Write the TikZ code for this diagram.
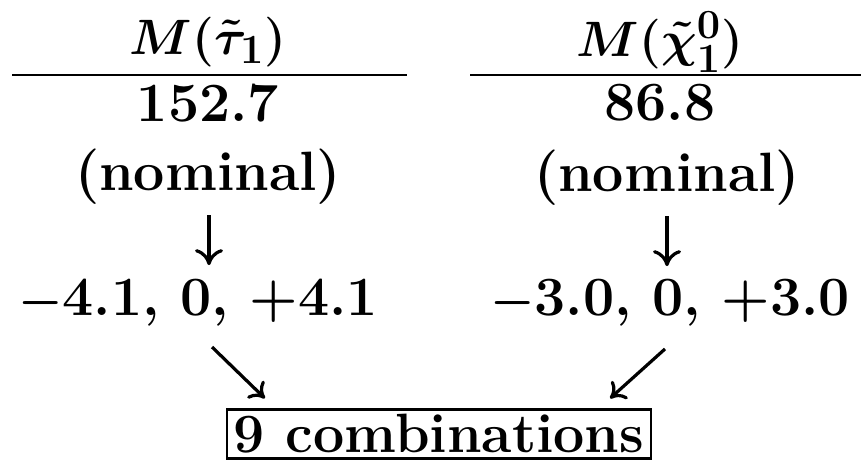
\documentclass[tikz,border=0pt]{standalone}
\usetikzlibrary{arrows.meta,calc}
\begin{document}
\begin{tikzpicture}[x=0.5pt,y=-0.5pt,
  txt/.style={font=\fontsize{27.7}{33}\selectfont\bfseries\boldmath, inner sep=0pt},
  rule/.style={line width=1.4pt},
  arr/.style={line width=1.6pt, -{Computer Modern Rightarrow[length=8pt,width=14pt]}},
  darr/.style={line width=1.6pt, -{Computer Modern Rightarrow[length=7pt,width=12pt]}},
  combo/.style={txt, draw, line width=1.1pt, inner xsep=3.5pt, inner ysep=2.5pt}]
\useasboundingbox[fill=white] (0,0) rectangle (861,468);
% left column
\node[txt] (t1) at (208,42) {$M(\tilde\tau_1)$};
\node[txt] (v1) at (208,103) {152.7};
\node[txt] (n1) at (208,177) {(nominal)};
\node[txt] (a1) at (198,303) {$-$4.1, 0, +4.1};
\coordinate (l1a) at (12,75);
\coordinate (l1b) at (407,75);
\draw[rule] (l1a) -- (l1b);
% right column
\node[txt] (t2) at (660,42) {$M(\tilde\chi^0_1)$};
\node[txt] (v2) at (660,103) {86.8};
\node[txt] (n2) at (667,178) {(nominal)};
\node[txt] (a2) at (670,303) {$-$3.0, 0, +3.0};
\coordinate (l2a) at (470,75);
\coordinate (l2b) at (861,75);
\draw[rule] (l2a) -- (l2b);
% result
\node[combo] (c) at (439,434) {9 combinations};
% arrows
\draw[arr] ($(n1.south)+(1,10)$) -- ($(n1.south)+(1,60)$);
\draw[arr] ($(n2.south)+(0,10)$) -- ($(n2.south)+(0,60)$);
\draw[darr] ($(a1.south)+(14,20)$) -- ($(c.north west)+(39,-10)$);
\draw[darr] ($(a2.south)+(-5,22)$) -- ($(c.north east)+(-42,-10)$);
\end{tikzpicture}
\end{document}
